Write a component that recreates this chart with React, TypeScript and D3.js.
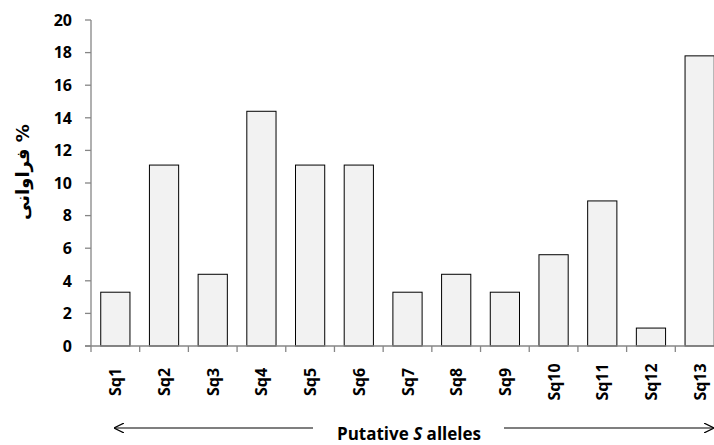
import React from "react";
import * as d3 from "d3";

const categories = ["Sq1","Sq2","Sq3","Sq4","Sq5","Sq6","Sq7","Sq8","Sq9","Sq10","Sq11","Sq12","Sq13"];
const values = [3.3, 11.1, 4.4, 14.4, 11.1, 11.1, 3.3, 4.4, 3.3, 5.6, 8.9, 1.1, 17.8];
const yTicks = [0, 2, 4, 6, 8, 10, 12, 14, 16, 18, 20];
const yTitle = "فراوانی %";
const xTitleA = "Putative ";
const xTitleB = "S";
const xTitleC = " alleles";

export default function App() {
  const W = 714, H = 445;
  const left = 91, right = 724, top = 20, bottom = 346;
  const x = d3.scaleBand<string>().domain(categories).range([left, right]).paddingInner(0.4).paddingOuter(0.2);
  const xb = d3.scaleBand<string>().domain(categories).range([left, right]);
  const y = d3.scaleLinear().domain([0, 20]).range([bottom, top]);
  const font = "'Open Sans', Lato, sans-serif";
  const axisColor = "#868686";
  return (
    <svg width={W} height={H} style={{ position: "absolute", left: 0, top: 0 }} fontFamily={font}>
      <defs>
        <marker id="arr" viewBox="0 0 10 10" refX="9" refY="5" markerWidth="10" markerHeight="10" markerUnits="userSpaceOnUse" orient="auto-start-reverse">
          <path d="M0,0 L10,5 L0,10" fill="none" stroke="#000" strokeWidth={1.2} />
        </marker>
      </defs>
      {/* bars */}
      {categories.map((c, i) => (
        <rect key={c} x={x(c)!} y={y(values[i])} width={x.bandwidth()} height={y(0) - y(values[i])}
          fill="#f2f2f2" stroke="#000" strokeWidth={1} />
      ))}
      {/* y axis */}
      <line x1={left} x2={left} y1={top} y2={bottom} stroke={axisColor} strokeWidth={1.3} />
      {yTicks.map(t => (
        <g key={t}>
          <line x1={left - 6} x2={left} y1={y(t)} y2={y(t)} stroke={axisColor} strokeWidth={1.3} />
          <text x={left - 19} y={y(t)} dy="0.36em" textAnchor="end" fontSize={16} fontWeight="bold" fill="#000">{t}</text>
        </g>
      ))}
      {/* x axis */}
      <line x1={left - 6} x2={right} y1={bottom} y2={bottom} stroke={axisColor} strokeWidth={1.3} />
      {categories.map(c => (
        <line key={"t" + c} x1={xb(c)!} x2={xb(c)!} y1={bottom} y2={bottom + 6} stroke={axisColor} strokeWidth={1.3} />
      ))}
      {categories.map(c => {
        const cx = x(c)! + x.bandwidth() / 2;
        return (
          <text key={"l" + c} transform={`translate(${cx + 6},382) rotate(-90)`} textAnchor="middle"
            fontSize={16} fontWeight="bold" fill="#000">{c}</text>
        );
      })}
      {/* y title */}
      <text transform="translate(29,172) rotate(-90)" textAnchor="middle" fontSize={18} fontWeight="bold" fill="#000"
        fontFamily="'DejaVu Sans', sans-serif">{yTitle}</text>
      {/* x title */}
      <text x={409} y={440} textAnchor="middle" fontSize={17} fontWeight="bold" fill="#000">
        {xTitleA}<tspan fontStyle="italic">{xTitleB}</tspan>{xTitleC}
      </text>
      {/* arrows */}
      <line x1={313} x2={115} y1={428} y2={428} stroke="#000" strokeWidth={1.2} markerEnd="url(#arr)" />
      <line x1={504} x2={713} y1={428} y2={428} stroke="#000" strokeWidth={1.2} markerEnd="url(#arr)" />
    </svg>
  );
}
